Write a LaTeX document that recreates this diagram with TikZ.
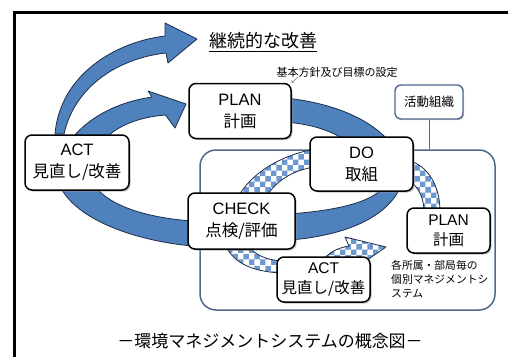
\documentclass[tikz,border=0pt]{standalone}
\usepackage{fontspec}
\setmainfont{Noto Sans CJK JP}
\newfontfamily\lat{Liberation Sans}
\usetikzlibrary{patterns,shadows}
\definecolor{bandblue}{HTML}{4F81BD}
\definecolor{bandline}{HTML}{1C2E4A}
\definecolor{chk}{HTML}{6E98D0}
\definecolor{frameblue}{HTML}{50698C}
\begin{document}
\begin{tikzpicture}[x=1pt,y=-1pt,
 band/.style={fill=bandblue, draw=bandline, line width=0.8pt, line join=round},
 cband/.style={preaction={fill=white}, pattern=checkerboard, pattern color=chk, draw=bandline, line width=0.8pt, line join=round},
 box/.style={draw=black, line width=1.5pt, fill=white, rounded corners=7pt, align=center, inner sep=0pt,
   drop shadow={shadow xshift=1.5pt, shadow yshift=-1.5pt, fill=black!40, opacity=0.6},
   font=\fontsize{16.5}{22}\selectfont},
 sbox/.style={box, font=\fontsize{15.5}{20}\selectfont},
 orgbox/.style={draw=frameblue, line width=1.4pt, fill=white, rounded corners=6pt, inner sep=0pt,
   drop shadow={shadow xshift=1.2pt, shadow yshift=-1.2pt, fill=black!30, opacity=0.6},
   font=\fontsize{12.5}{14}\selectfont},
 innerbox/.style={draw=frameblue, line width=1.5pt, rounded corners=16pt, inner sep=0pt},
 note/.style={font=\fontsize{10.8}{14}\selectfont, align=left, inner sep=0pt}
]
\useasboundingbox (0,0) rectangle (508,356);
\fill[white] (0,0) rectangle (508,356);
\draw[line width=3pt] (14,360) -- (14,12) -- (510,12);

% inner system frame and organisation box
\node[innerbox, minimum width=295pt, minimum height=160pt] (inner) at (347.5,230) {};
\node[orgbox, minimum width=68pt, minimum height=34pt] (org) at (429,102) {活動組織};
\draw[frameblue, line width=0.8pt] (org.south) -- (org.south |- inner.north);

% outer PDCA ring (solid blue)
\path[band] (55,134) .. controls (60,75) and (115,42) .. (165,36) -- (165,23) -- (197,39) -- (168,63) -- (166,53)
  .. controls (120,58) and (75,85) .. (64,134) -- cycle;
\path[band] (74,136) .. controls (95,112) and (125,101) .. (152,97) -- (148,91) -- (186,104) -- (175,128) -- (165.5,115)
  .. controls (140,117) and (120,125) .. (108,136) -- cycle;
\path[band] (285,98) .. controls (325,102) and (365,115) .. (388,140) -- (345,140)
  .. controls (330,130) and (310,124) .. (285,122) -- cycle;
\path[band] (383,188) .. controls (370,202) and (340,210) .. (290,214) -- (290,240)
  .. controls (340,236) and (385,220) .. (400,188) -- cycle;
\path[band] (192,221) .. controls (150,218) and (110,207) .. (95,186) -- (60,186)
  .. controls (75,218) and (130,240) .. (192,246) -- cycle;

% inner PDCA ring (checkered)
\path[cband] (238,197) .. controls (252,172) and (282,155) .. (315,149) -- (315,167)
  .. controls (292,170) and (275,182) .. (266,197) -- cycle;
\path[cband] (408,160) .. controls (428,166) and (440,185) .. (440,212) -- (424,212)
  .. controls (424,197) and (418,186) .. (408,180) -- cycle;
\path[cband] (228,250) .. controls (238,266) and (258,272) .. (282,273) -- (282,261)
  .. controls (268,260) and (258,256) .. (252,250) -- cycle;
\path[cband] (322,262) .. controls (328,252) and (338,248) .. (349,246) -- (345,237) -- (386,247) -- (357,267) -- (353,257)
  .. controls (345,258) and (340,260) .. (336,264) -- cycle;

% boxes
\node[box, minimum width=102pt, minimum height=55pt] (plan) at (240,111) {{\lat PLAN}\\計画};
\node[box, minimum width=104pt, minimum height=55pt] (actL) at (77,162.5) {{\lat ACT}\\見直し/改善};
\node[box, minimum width=103pt, minimum height=54pt] (do) at (361.5,164) {{\lat DO}\\取組};
\node[box, minimum width=107pt, minimum height=56pt] (check) at (241.5,221) {{\lat CHECK}\\点検/評価};
\node[sbox, minimum width=83pt, minimum height=45pt] (planS) at (448.5,230.5) {{\lat PLAN}\\計画};
\node[sbox, minimum width=93pt, minimum height=45pt] (actS) at (323.5,279.5) {{\lat ACT}\\見直し/改善};

% labels
\node[font=\fontsize{18}{20}\selectfont, inner sep=0pt] (title) at (263,42) {\underline{継続的な改善}};
\node[font=\fontsize{11}{12}\selectfont, inner sep=0pt] (lbl) at (337,72) {基本方針及び目標の設定};
\coordinate (lblfoot) at (298,77);
\draw[->, frameblue, line width=0.5pt] (lblfoot) -- (plan.north east);
\node[note, anchor=north west] (sysnote) at (391,260) {各所属・部局毎の\\個別マネジメントシ\\ステム};
\node[font=\fontsize{17}{20}\selectfont, inner sep=0pt] (caption) at (270,341) {－環境マネジメントシステムの概念図－};
\end{tikzpicture}
\end{document}
